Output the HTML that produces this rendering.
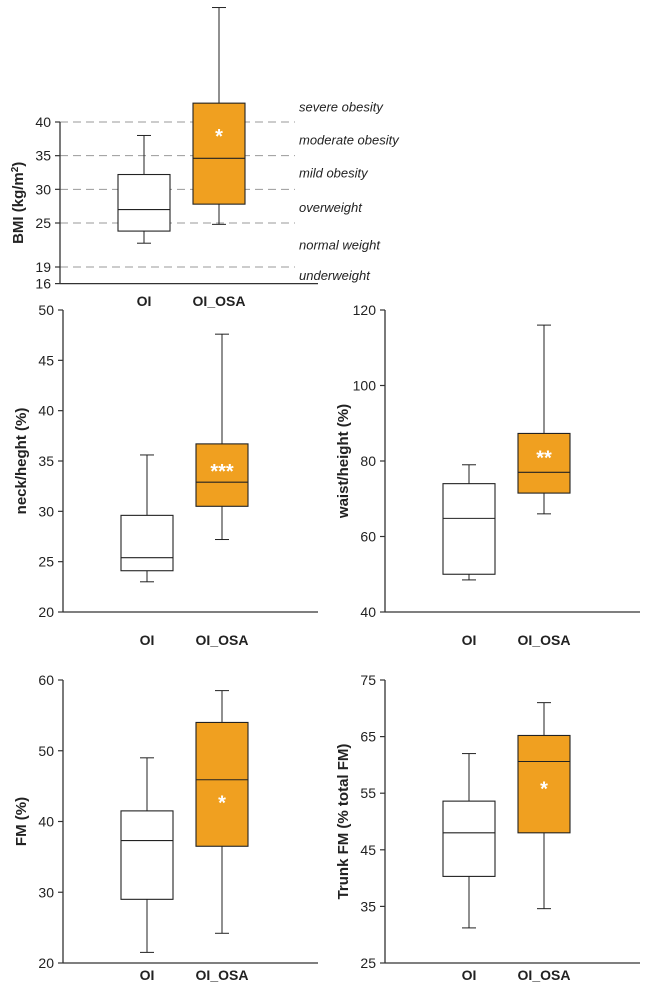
<!DOCTYPE html>
<html><head><meta charset="utf-8"><style>
body{margin:0;background:#fff;}
svg{display:block;font-family:"Liberation Sans",Arial,sans-serif;}
</style></head><body>
<svg id="c" width="656" height="992"></svg>
<script>
const groups = ["OI","OI_OSA"];
const bmiStats = [[22,23.8,27,32.2,38],[24.8,27.8,34.6,42.8,57]];
const neckStats = [[23,24.1,25.4,29.6,35.6],[27.2,30.5,32.9,36.7,47.6]];
const waistStats = [[48.5,50,64.8,74,79],[66,71.5,77,87.3,116]];
const fmStats = [[21.5,29,37.3,41.5,49],[24.2,36.5,45.9,54,58.5]];
const trunkStats = [[31.2,40.3,48,53.6,62],[34.6,48,60.6,65.2,71]];
const bmiTicks = [16,19,25,30,35,40];
const neckTicks = [20,25,30,35,40,45,50];
const waistTicks = [40,60,80,100,120];
const fmTicks = [20,30,40,50,60];
const trunkTicks = [25,35,45,55,65,75];
const stars = ["*","***","**","*","*"];
const bmiLines = [19,25,30,35,40];
const bmiCats = ["underweight","normal weight","overweight","mild obesity","moderate obesity","severe obesity"];
const bmiCatVals = [17.3,21.8,27.4,32.5,37.4,42.3];

const svg=document.getElementById('c');
const NS="http://www.w3.org/2000/svg";
function mk(tag,attrs,parent){const e=document.createElementNS(NS,tag);for(const k in attrs)e.setAttribute(k,attrs[k]);(parent||svg).appendChild(e);return e;}

function panel(name,ax,axEnd,yMin,yMax,pxMin,pxMax,ticks,stats,title,star,starVal,xlabY){
  const g=mk('g',{});
  
  
  const y=v=>pxMin+(v-yMin)/(yMax-yMin)*(pxMax-pxMin);
  const ya=mk('line',{x1:ax,y1:pxMax,x2:ax,y2:pxMin,stroke:'#333','stroke-width':1.3},g);
  
  const xa=mk('line',{x1:ax,y1:pxMin,x2:axEnd,y2:pxMin,stroke:'#333','stroke-width':1.3},g);
  
  ticks.forEach(t=>{
    mk('line',{x1:ax-5,y1:y(t),x2:ax,y2:y(t),stroke:'#333','stroke-width':1.2},g);
    const tx=mk('text',{x:ax-9,y:y(t)+5,'text-anchor':'end','font-size':14,fill:'#222'},g);
    tx.textContent=t;
    
  });
  const tt=mk('text',{transform:`translate(${ax-37},${(pxMin+pxMax)/2}) rotate(-90)`,'text-anchor':'middle','font-size':15,'font-weight':'bold',fill:'#222'},g);
  tt.innerHTML=title;
  
  const centers=[ax+84,ax+159];
  stats.forEach((s,i)=>{
    const cx=centers[i],w=52,fill=i?'#F0A020':'#fff';
    const b=mk('g',{},g);
    
    
    mk('line',{x1:cx,y1:y(s[0]),x2:cx,y2:y(s[1]),stroke:'#222'},b);
    mk('line',{x1:cx,y1:y(s[3]),x2:cx,y2:y(s[4]),stroke:'#222'},b);
    mk('line',{x1:cx-7,y1:y(s[0]),x2:cx+7,y2:y(s[0]),stroke:'#222'},b);
    mk('line',{x1:cx-7,y1:y(s[4]),x2:cx+7,y2:y(s[4]),stroke:'#222'},b);
    mk('rect',{x:cx-w/2,y:y(s[3]),width:w,height:y(s[1])-y(s[3]),fill:fill,stroke:'#222','stroke-width':1.1},b);
    mk('line',{x1:cx-w/2,y1:y(s[2]),x2:cx+w/2,y2:y(s[2]),stroke:'#222','stroke-width':1.1},b);
    const xl=mk('text',{x:cx,y:xlabY,'text-anchor':'middle','font-size':14,'font-weight':'bold',fill:'#222'},g);
    xl.textContent=groups[i];
    
  });
  const st=mk('text',{x:centers[1],y:y(starVal)+9,'text-anchor':'middle','font-size':20,'font-weight':'bold',fill:'#fff'},g);
  st.textContent=star;
  
  return y;
}

// BMI panel with dashed category lines
const yb=v=>283.6+(v-16)*(122-283.6)/(40-16);
const bg=mk('g',{});


bmiLines.forEach(v=>{
  const yy=v===19?267:yb(v);
  mk('line',{x1:60,y1:yy,x2:295,y2:yy,stroke:'#999','stroke-dasharray':'8,5','stroke-width':1},bg);
});
bmiCats.forEach((c,i)=>{
  const t=mk('text',{x:299,y:yb(bmiCatVals[i])+5,'font-size':13,'font-style':'italic',fill:'#222'},bg);
  t.textContent=c;
  
});
const bmiY=panel('bmi',60,318,16,40,283.6,122,[],bmiStats,'BMI (kg/m<tspan baseline-shift="super" font-size="10">2</tspan>)',stars[0],38.2,306);
bmiTicks.forEach(t=>{
  const yy=t===19?267:bmiY(t);
  mk('line',{x1:55,y1:yy,x2:60,y2:yy,stroke:'#333','stroke-width':1.2});
  const tx=mk('text',{x:51,y:yy+5,'text-anchor':'end','font-size':14,fill:'#222'});
  tx.textContent=t;
  
  
});

panel('neck',63,318,20,50,612,310,neckTicks,neckStats,'neck/heght (%)',stars[1],34.2,645);
panel('waist',385,640,40,120,612,310,waistTicks,waistStats,'waist/height (%)',stars[2],81.5,645);
panel('fm',63,318,20,60,963,680,fmTicks,fmStats,'FM (%)',stars[3],43,980);
panel('trunk',385,640,25,75,963,680,trunkTicks,trunkStats,'Trunk FM (% total FM)',stars[4],56.2,980);
</script>
</body></html>
